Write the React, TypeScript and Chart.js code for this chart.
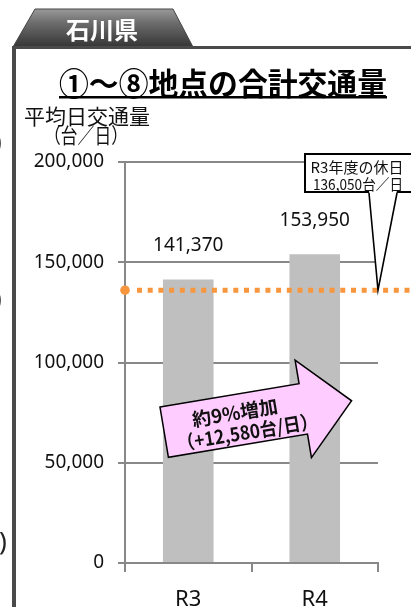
import { useEffect, useRef } from 'react';
import { Chart, registerables } from 'chart.js';
Chart.register(...registerables);

const categories = ['R3', 'R4'];
const trafficValues = [141370, 153950];
const yTickValues = [0, 50000, 100000, 150000, 200000];
const holidayValue = 136050;
const holidayLabel = ['R3年度の休日', '136,050台／日'];
const increaseLabel = ['約9%増加', '（+12,580台/日）'];
const titleText = '①～⑧地点の合計交通量';
const prefectureText = '石川県';
const yTitle = ['平均日交通量', '（台／日）'];

const CJK = '"Noto Sans CJK JP", "Noto Sans", sans-serif';
const NUM = '"Noto Sans", sans-serif';
const ORANGE = '#F7963C';

const fmt = (v: number) => v.toLocaleString('en-US');

const decorPlugin = {
  id: 'decor',
  beforeDraw(chart: any) {
    const ctx = chart.ctx as CanvasRenderingContext2D;
    const W = chart.width;
    const H = chart.height;
    ctx.save();
    ctx.fillStyle = '#ffffff';
    ctx.fillRect(0, 0, W, H);

    // neighbouring panel fragments
    ctx.fillStyle = '#222';
    ctx.font = `26px ${NUM}`;
    ctx.textBaseline = 'middle';
    ctx.textAlign = 'left';
    ctx.fillText(')', -6, 143);
    ctx.fillText(')', -6, 300);
    ctx.fillText(')', -1, 543);

    // tab
    const g = ctx.createLinearGradient(0, 9, 0, 47);
    g.addColorStop(0, '#9a9a9a');
    g.addColorStop(0.35, '#6e6e6e');
    g.addColorStop(1, '#353535');
    ctx.beginPath();
    ctx.moveTo(35, 9);
    ctx.lineTo(173, 9);
    ctx.lineTo(193, 47);
    ctx.lineTo(13, 47);
    ctx.closePath();
    ctx.fillStyle = g;
    ctx.fill();
    ctx.strokeStyle = '#444';
    ctx.lineWidth = 1;
    ctx.stroke();
    ctx.fillStyle = '#ffffff';
    ctx.font = `bold 24px ${CJK}`;
    ctx.textAlign = 'center';
    ctx.textBaseline = 'middle';
    ctx.fillText(prefectureText, 102, 30);

    // panel border
    ctx.fillStyle = '#4a4a4a';
    ctx.fillRect(12, 46, W - 12, 3);
    ctx.fillRect(12, 46, 4, H - 46);

    // title
    ctx.fillStyle = '#000';
    ctx.font = `bold 31px ${CJK}`;
    ctx.textAlign = 'center';
    ctx.textBaseline = 'middle';
    ctx.fillText(titleText, 223, 83, 328);
    const tw = Math.min(ctx.measureText(titleText).width, 328);
    ctx.fillRect(223 - tw / 2, 96, tw, 2.5);

    // y title
    ctx.font = `21px ${CJK}`;
    ctx.fillStyle = '#111';
    ctx.fillText(yTitle[0], 87, 116, 126);
    ctx.fillText(yTitle[1], 86, 135, 84);
    ctx.restore();
  },
  afterDatasetsDraw(chart: any) {
    const ctx = chart.ctx as CanvasRenderingContext2D;
    const ys = chart.scales.y;
    const area = chart.chartArea;
    const meta = chart.getDatasetMeta(0);
    ctx.save();

    // value labels
    ctx.fillStyle = '#111';
    ctx.font = `19px ${NUM}`;
    ctx.textAlign = 'center';
    ctx.textBaseline = 'middle';
    meta.data.forEach((bar: any, i: number) => {
      ctx.fillText(fmt(trafficValues[i]), bar.x, bar.y - 34);
    });

    // holiday line
    const yp = ys.getPixelForValue(holidayValue);
    ctx.strokeStyle = ORANGE;
    ctx.lineWidth = 5;
    ctx.setLineDash([5, 5.7]);
    ctx.beginPath();
    ctx.moveTo(area.left + 12, yp);
    ctx.lineTo(chart.width, yp);
    ctx.stroke();
    ctx.setLineDash([]);
    ctx.fillStyle = ORANGE;
    ctx.beginPath();
    ctx.arc(area.left, yp, 4.8, 0, Math.PI * 2);
    ctx.fill();

    // increase arrow
    ctx.save();
    ctx.translate(160, 407);
    ctx.rotate((-9.5 * Math.PI) / 180);
    ctx.beginPath();
    ctx.moveTo(0, 0);
    ctx.lineTo(141, 0);
    ctx.lineTo(141, -24);
    ctx.lineTo(190, 25.5);
    ctx.lineTo(141, 75);
    ctx.lineTo(141, 51);
    ctx.lineTo(0, 51);
    ctx.closePath();
    ctx.fillStyle = '#FFCCFF';
    ctx.fill();
    ctx.strokeStyle = '#000';
    ctx.lineWidth = 1.5;
    ctx.stroke();
    ctx.fillStyle = '#111';
    ctx.font = `bold 19px ${CJK}`;
    ctx.textAlign = 'center';
    ctx.textBaseline = 'middle';
    ctx.fillText(increaseLabel[0], 73, 18, 96);
    ctx.fillText(increaseLabel[1], 82, 39, 142);
    ctx.restore();

    // callout
    ctx.fillStyle = '#fff';
    ctx.strokeStyle = '#000';
    ctx.lineWidth = 2;
    ctx.fillRect(305, 154, 110, 38);
    ctx.strokeRect(305, 154, 110, 38);
    ctx.beginPath();
    ctx.moveTo(369, 190);
    ctx.lineTo(378, yp);
    ctx.lineTo(397, 190);
    ctx.closePath();
    ctx.fill();
    ctx.lineWidth = 1.6;
    ctx.beginPath();
    ctx.moveTo(369, 193);
    ctx.lineTo(378, yp);
    ctx.lineTo(397, 193);
    ctx.stroke();
    ctx.fillStyle = '#111';
    ctx.font = `15px ${CJK}`;
    ctx.fillText(holidayLabel[0], 357, 167, 100);
    ctx.fillText(holidayLabel[1], 358, 184, 90);

    ctx.restore();
  },
};

export default function App() {
  const ref = useRef<HTMLCanvasElement | null>(null);
  useEffect(() => {
    if (!ref.current) return;
    const chart = new Chart(ref.current, {
      type: 'bar',
      data: {
        labels: categories,
        datasets: [
          {
            data: trafficValues,
            backgroundColor: '#BFBFBF',
            barPercentage: 0.4,
            categoryPercentage: 1,
          },
        ],
      },
      options: {
        animation: false,
        responsive: false,
        devicePixelRatio: 1,
        layout: { padding: { top: 162, right: 33, left: 0, bottom: 0 } },
        plugins: { legend: { display: false }, tooltip: { enabled: false } },
        scales: {
          x: {
            grid: { drawOnChartArea: false, tickLength: 9, color: '#888', lineWidth: 2, offset: true },
            border: { color: '#888', width: 2 },
            ticks: { font: { family: 'Noto Sans', size: 22 }, color: '#111', padding: 15 },
            afterFit: (s: any) => {
              s.height = 44;
            },
          },
          y: {
            min: 0,
            max: 200000,
            afterBuildTicks: (s: any) => {
              s.ticks = yTickValues.map((v) => ({ value: v }));
            },
            ticks: {
              font: { family: 'Noto Sans', size: 19 },
              color: '#111',
              padding: 14,
              callback: (v: any) => fmt(Number(v)),
            },
            grid: { color: '#888', lineWidth: 2, tickLength: 7 },
            border: { color: '#888', width: 2 },
            afterFit: (s: any) => {
              s.width = 125;
            },
          },
        },
      },
      plugins: [decorPlugin],
    });
    return () => chart.destroy();
  }, []);
  return (
    <div style={{ position: 'fixed', left: 0, top: 0, width: 411, height: 607 }}>
      <canvas ref={ref} width={411} height={607} style={{ display: 'block' }} />
    </div>
  );
}
